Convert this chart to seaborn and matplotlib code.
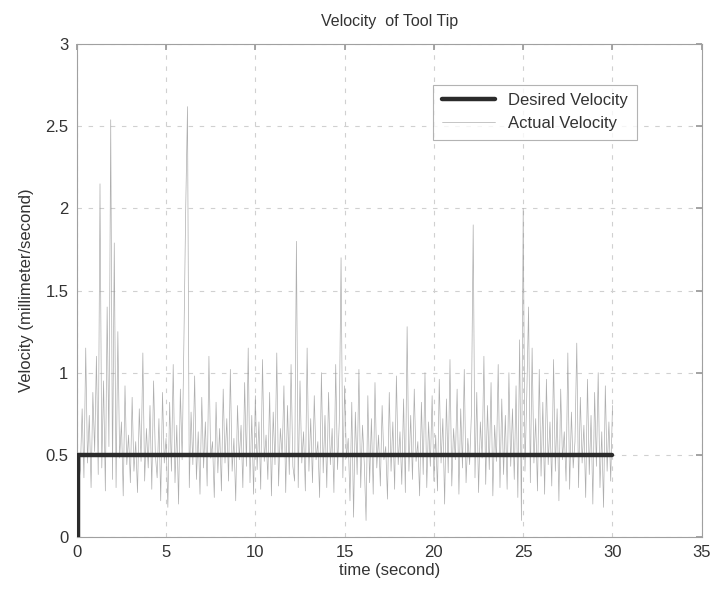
import matplotlib
matplotlib.use("Agg")
import matplotlib.pyplot as plt
import numpy as np
import pandas as pd
import seaborn as sns

# desired velocity: step up to 0.5 right after start, held until 30 s
desired_t = [0.05, 0.05, 30.0]
desired_v = [0.0, 0.5, 0.5]

# actual velocity, one value every 0.1 s (0.1 .. 30.0)
actual_v = [
    0.32, 0.41, 0.78, 0.36, 1.15, 0.45, 0.74, 0.30, 0.88, 0.52, 1.10, 0.38, 2.15, 0.42, 0.95, 0.28, 1.40, 0.55, 2.54, 0.35,
    1.79, 0.30, 1.25, 0.48, 0.70, 0.25, 0.92, 0.44, 0.62, 0.33, 0.85, 0.40, 0.58, 0.27, 0.78, 0.46, 1.12, 0.34, 0.66, 0.42,
    0.80, 0.29, 0.95, 0.50, 0.36, 0.72, 0.22, 0.88, 0.45, 0.60, 0.18, 0.82, 0.40, 1.05, 0.33, 0.68, 0.20, 0.90, 0.47, 1.20,
    2.00, 2.62, 0.30, 0.76, 0.44, 0.98, 0.35, 0.64, 0.26, 0.85, 0.42, 0.70, 0.31, 1.10, 0.48, 0.58, 0.24, 0.82, 0.39, 0.66,
    0.28, 0.90, 0.45, 0.72, 0.34, 1.02, 0.40, 0.60, 0.22, 0.80, 0.47, 0.68, 0.30, 0.94, 0.43, 1.15, 0.33, 0.74, 0.26, 0.86,
    0.41, 0.70, 0.29, 1.08, 0.46, 0.62, 0.35, 0.88, 0.25, 0.76, 0.44, 1.12, 0.31, 0.66, 0.49, 0.92, 0.27, 0.80, 0.38, 1.05,
    0.43, 0.34, 1.80, 0.30, 0.95, 0.45, 0.64, 0.28, 1.15, 0.40, 0.72, 0.33, 0.86, 0.47, 0.58, 0.24, 1.00, 0.39, 0.74, 0.30,
    0.88, 0.44, 0.66, 0.27, 1.05, 0.41, 0.70, 1.70, 0.36, 0.92, 0.48, 0.60, 0.22, 0.82, 0.12, 0.76, 0.38, 1.02, 0.30, 0.68,
    0.45, 0.10, 0.86, 0.33, 0.72, 0.26, 0.94, 0.42, 0.62, 0.31, 0.80, 0.47, 0.55, 0.23, 0.88, 0.40, 0.70, 0.29, 0.98, 0.44,
    0.64, 0.32, 0.84, 0.27, 1.28, 0.40, 0.74, 0.35, 0.90, 0.46, 0.58, 0.25, 0.82, 0.38, 1.00, 0.30, 0.70, 0.43, 0.86, 0.34,
    0.62, 0.28, 0.96, 0.45, 0.72, 0.20, 0.84, 0.39, 1.08, 0.31, 0.66, 0.47, 0.90, 0.26, 0.78, 0.42, 1.02, 0.33, 0.60, 0.44,
    0.75, 1.90, 0.36, 0.88, 0.27, 0.70, 0.48, 1.10, 0.32, 0.80, 0.41, 0.94, 0.25, 0.68, 0.46, 1.05, 0.30, 0.84, 0.38, 0.74,
    0.29, 1.00, 0.43, 0.78, 0.35, 0.92, 0.24, 1.20, 0.10, 2.00, 0.40, 0.86, 1.40, 0.33, 1.15, 0.45, 0.72, 0.28, 1.02, 0.37,
    0.82, 0.26, 0.96, 0.44, 0.70, 0.31, 1.08, 0.40, 0.78, 0.22, 0.90, 0.47, 0.64, 0.34, 1.12, 0.29, 0.76, 0.42, 0.58, 1.18,
    0.30, 0.85, 0.45, 0.68, 0.24, 0.96, 0.38, 0.74, 0.20, 0.88, 0.43, 1.00, 0.30, 0.64, 0.18, 0.92, 0.40, 0.70, 0.34, 0.80,
]
actual_t = np.round(np.arange(1, len(actual_v) + 1) * 0.1, 2)

x_ticks = [0, 5, 10, 15, 20, 25, 30, 35]
y_ticks = [0, 0.5, 1, 1.5, 2, 2.5, 3]
y_labels = ["0", "0.5", "1", "1.5", "2", "2.5", "3"]

sns.set_theme(style="white")
plt.rcParams["font.family"] = ["Liberation Sans", "DejaVu Sans"]

fig = plt.figure(figsize=(7.11, 5.90), dpi=100)
ax = fig.add_axes([0.108, 0.090, 0.879, 0.835])

df_des = pd.DataFrame({"t": desired_t, "v": desired_v})
df_act = pd.DataFrame({"t": actual_t, "v": actual_v})

sns.lineplot(df_des, x="t", y="v", ax=ax, color="#2b2b2b", linewidth=3.2,
             sort=False, estimator=None, label="Desired Velocity", zorder=3)
sns.lineplot(df_act, x="t", y="v", ax=ax, color="#9a9a9a", linewidth=0.5, alpha=0.8,
             sort=False, estimator=None, label="Actual Velocity", zorder=2)

ax.set_xlim(0, 35)
ax.set_ylim(0, 3)
ax.set_xticks(x_ticks)
ax.set_yticks(y_ticks)
ax.set_yticklabels(y_labels)
ax.tick_params(direction="in", top=True, right=True, length=4, color="#999999",
               labelsize=12, labelcolor="#333333", pad=6)
ax.grid(True, linestyle=(0, (4, 6)), color="#d0d0d0", linewidth=0.8)
for sp in ax.spines.values():
    sp.set_color("#a0a0a0")
    sp.set_linewidth(0.8)

ax.set_xlabel("time (second)", fontsize=12, color="#333333", labelpad=2)
ax.set_ylabel("Velocity (millimeter/second)", fontsize=12, color="#333333", labelpad=8)
ax.set_title("Velocity  of Tool Tip", fontsize=11.5, color="#333333", pad=13)

leg = ax.legend(loc="upper right", bbox_to_anchor=(0.909, 0.935), fontsize=12,
                frameon=True, fancybox=False, handlelength=3.2, borderpad=0.5,
                labelcolor="#333333")
leg.get_frame().set_edgecolor("#a0a0a0")
leg.get_frame().set_linewidth(0.8)

fig.savefig("out.png", dpi=100)
